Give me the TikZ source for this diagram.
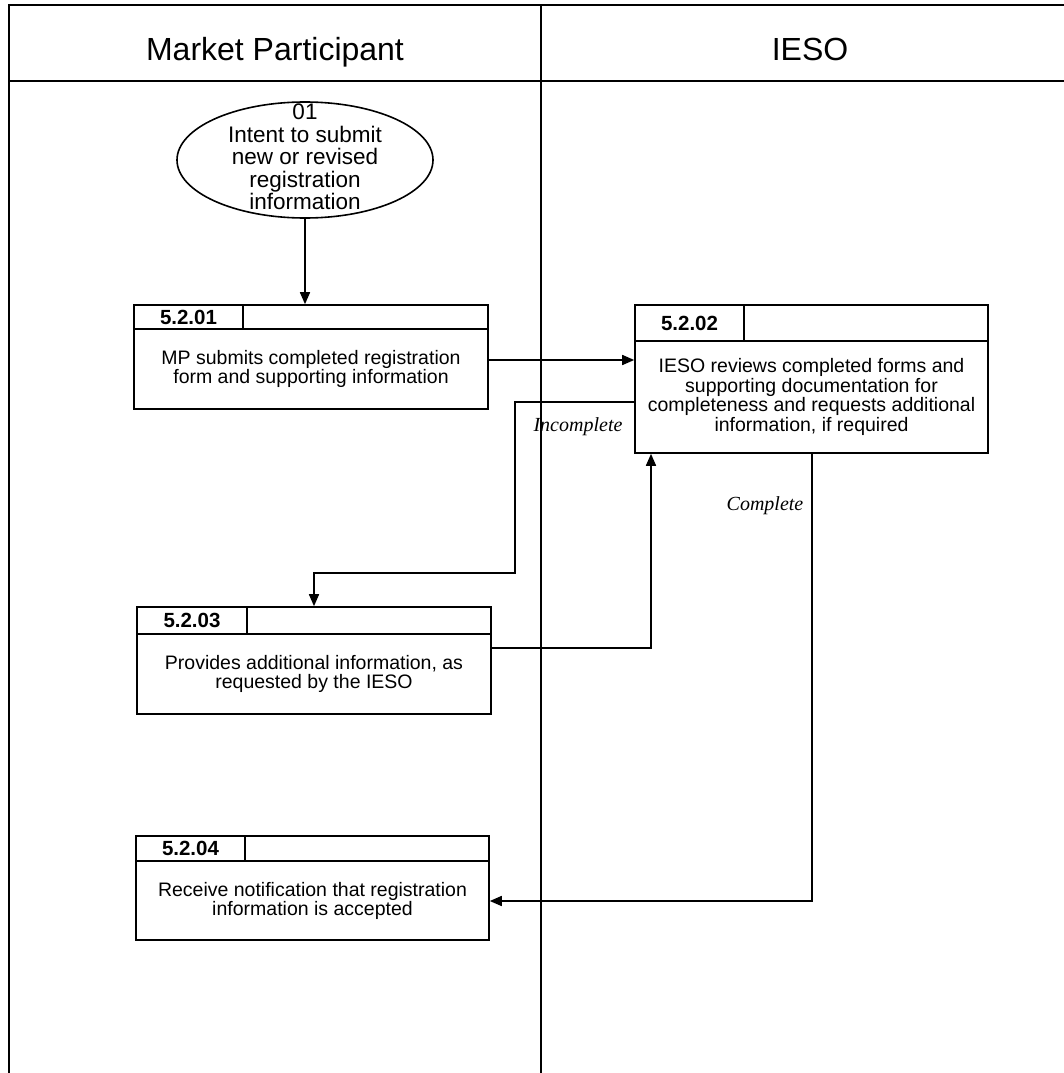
\documentclass[tikz,border=0pt]{standalone}
\usepackage{fontspec}
\setmainfont{Liberation Sans}
\newfontfamily\lblfont{Liberation Serif}
\usetikzlibrary{arrows.meta,shapes.geometric,fit}
\newcommand\procbox[9]{%
  \node[boxfit, fit={(#2,#3) (#4,#5)}] (#1) {};
  \draw[ln] (#2,#6) -- (#4,#6);
  \draw[ln] (#7,#3) -- (#7,#6);
  \node[idtxt] (#1id) at ({(#2+#7)/2},{(#3+#6)/2}) {#8};
  \node[bodytxt] (#1tx) at ({(#2+#4)/2},{(#6+#5)/2}) {#9};
}
\begin{document}
\begin{tikzpicture}[x=1pt,y=-1pt,
  ln/.style={line width=1.6pt, line cap=rect},
  boxfit/.style={draw, line width=1.6pt, inner sep=0pt, rectangle},
  idtxt/.style={inner sep=0pt, font=\fontsize{20.5}{20}\selectfont\bfseries},
  bodytxt/.style={inner sep=0pt, align=center, font=\fontsize{19.5}{19.5}\selectfont},
  lanetxt/.style={inner sep=0pt, anchor=base, font=\fontsize{32}{32}\selectfont},
  lbl/.style={inner sep=0pt, font=\fontsize{20}{20}\selectfont\lblfont\itshape},
  arr/.style={line width=1.6pt, -{Triangle[length=12pt,width=10pt]}},
  evt/.style={draw, ellipse, line width=1.6pt, minimum width=256pt, minimum height=116pt, inner sep=0pt},
  evttxt/.style={inner sep=0pt, align=center, font=\fontsize{22.5}{22.5}\selectfont}]
\useasboundingbox (0,0) rectangle (1063,1073);
% swimlanes
\coordinate (tl) at (9,5);
\coordinate (tr) at (1063,5);
\coordinate (hl) at (9,81);
\coordinate (hr) at (1063,81);
\coordinate (bl) at (9,1073);
\coordinate (dt) at (541,5);
\coordinate (db) at (541,1073);
\draw[ln] (tl) -- (tr);
\draw[ln] (hl) -- (hr);
\draw[ln] (tl) -- (bl);
\draw[ln] (dt) -- (db);
\node[lanetxt] (lane1) at (275,61) {Market Participant};
\node[lanetxt] (lane2) at (810,61) {IESO};
% start event
\node[evt] (e) at (305,160) {};
\node[evttxt] (etx) at (305,157) {01\\Intent to submit\\new or revised\\registration\\information};
% process boxes
\begin{scope}[bodytxt/.append style={font=\fontsize{19.5}{19}\selectfont}]
\procbox{b1}{134}{305}{488}{409}{329}{243}{5.2.01}{MP submits completed registration\\form and supporting information}
\end{scope}
\procbox{b2}{635}{305}{988}{453}{341}{744}{5.2.02}{IESO reviews completed forms and\\supporting documentation for\\completeness and requests additional\\information, if required}
\begin{scope}[bodytxt/.append style={font=\fontsize{19.5}{19}\selectfont}]
\procbox{b3}{137}{607}{491}{714}{634}{247}{5.2.03}{Provides additional information, as\\requested by the IESO}
\procbox{b4}{136}{836}{489}{940}{861}{245}{5.2.04}{Receive notification that registration\\information is accepted}
\end{scope}
% helper coordinates
\coordinate (y360) at (0,360);
\coordinate (y402) at (0,402);
\coordinate (k1) at (515,573);
\coordinate (k2) at (314,0);
\coordinate (y648) at (0,648);
\coordinate (x651) at (651,0);
\coordinate (x812) at (812,0);
\coordinate (y901) at (0,901);
% connectors
\draw[arr] (e.south) -- (e.south |- b1.north);
\draw[arr] (b1.east |- y360) -- (b2.west |- y360);
\draw[arr] (b2.west |- y402) -| (k1) -| (b3.north -| k2);
\draw[arr] (b3.east |- y648) -| (b2.south -| x651);
\draw[arr] (b2.south -| x812) |- (b4.east |- y901);
% labels
\node[lbl] (linc) at (578,427) {Incomplete};
\node[lbl] (lcomp) at (765,506) {Complete};
\end{tikzpicture}
\end{document}
